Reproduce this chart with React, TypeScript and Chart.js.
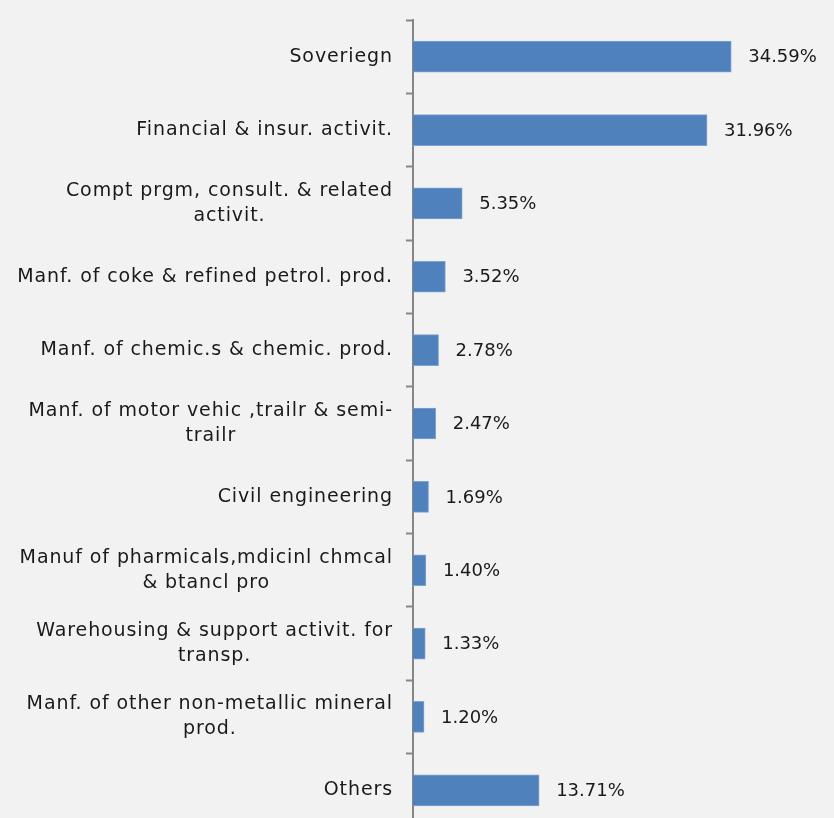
import React, { useEffect, useRef } from "react";
import { Chart, registerables } from "chart.js";

Chart.register(...registerables);

const categories: (string | string[])[] = [
  "Soveriegn",
  "Financial & insur. activit.",
  ["Compt prgm, consult. & related", "activit."],
  "Manf. of coke & refined petrol. prod.",
  "Manf. of chemic.s & chemic. prod.",
  ["Manf. of motor vehic ,trailr & semi-", "trailr"],
  "Civil engineering",
  ["Manuf of pharmicals,mdicinl chmcal", "& btancl pro"],
  ["Warehousing & support activit. for", "transp."],
  ["Manf. of other non-metallic mineral", "prod."],
  "Others",
];

const shares: number[] = [34.59, 31.96, 5.35, 3.52, 2.78, 2.47, 1.69, 1.4, 1.33, 1.2, 13.71];

const FONT_FAMILY = "'DejaVu Sans', sans-serif";
const TEXT_COLOR = "#1a1a1a";

const labelPlugin = {
  id: "customLabels",
  afterDraw(chart: any) {
    const ctx = chart.ctx;
    const yScale = chart.scales.y;
    const meta = chart.getDatasetMeta(0);
    ctx.save();
    ctx.font = `19px ${FONT_FAMILY}`;
    (ctx as any).letterSpacing = "0.9px";
    ctx.fillStyle = TEXT_COLOR;
    ctx.textBaseline = "middle";
    const lineH = 25;
    const rightX = yScale.right - 7 - 13;
    categories.forEach((cat, i) => {
      const lines = Array.isArray(cat) ? cat : [cat];
      const cy = yScale.getPixelForValue(i);
      const widths = lines.map((l) => ctx.measureText(l).width);
      const blockW = Math.max(...widths);
      const cx = rightX - blockW / 2;
      ctx.textAlign = "left";
      lines.forEach((l, k) => {
        const y = cy + (k - (lines.length - 1) / 2) * lineH;
        ctx.fillText(l, cx - widths[k] / 2, y);
      });
    });
    ctx.font = `18px ${FONT_FAMILY}`;
    (ctx as any).letterSpacing = "0px";
    ctx.textAlign = "left";
    meta.data.forEach((bar: any, i: number) => {
      ctx.fillText(shares[i].toFixed(2) + "%", bar.x + 17, bar.y + 1);
    });
    ctx.restore();
  },
};

export default function App() {
  const ref = useRef<HTMLCanvasElement | null>(null);
  useEffect(() => {
    if (!ref.current) return;
    const chart = new Chart(ref.current, {
      type: "bar",
      data: {
        labels: categories as any,
        datasets: [
          {
            data: shares,
            backgroundColor: "#4f81bd",
            borderColor: "#7fa3d1",
            borderWidth: 1,
            barThickness: 31,
          },
        ],
      },
      options: {
        indexAxis: "y",
        animation: false,
        responsive: false,
        maintainAspectRatio: false,
        layout: { padding: { left: 406, top: 20, right: 7, bottom: 3 } },
        plugins: { legend: { display: false }, tooltip: { enabled: false } },
        scales: {
          x: { display: false, min: 0, max: 45 },
          y: {
            offset: true,
            grid: {
              offset: true,
              drawOnChartArea: false,
              drawTicks: true,
              tickLength: 7,
              tickColor: "#868686",
              tickWidth: 2,
            },
            border: { display: true, color: "#868686", width: 2 },
            ticks: { display: false },
          },
        },
      },
      plugins: [labelPlugin],
    });
    return () => chart.destroy();
  }, []);
  return (
    <div
      style={{
        position: "fixed",
        left: 0,
        top: 0,
        width: 834,
        height: 830,
        background: "#f2f2f2",
      }}
    >
      <canvas ref={ref} width={834} height={830} style={{ display: "block" }} />
    </div>
  );
}
